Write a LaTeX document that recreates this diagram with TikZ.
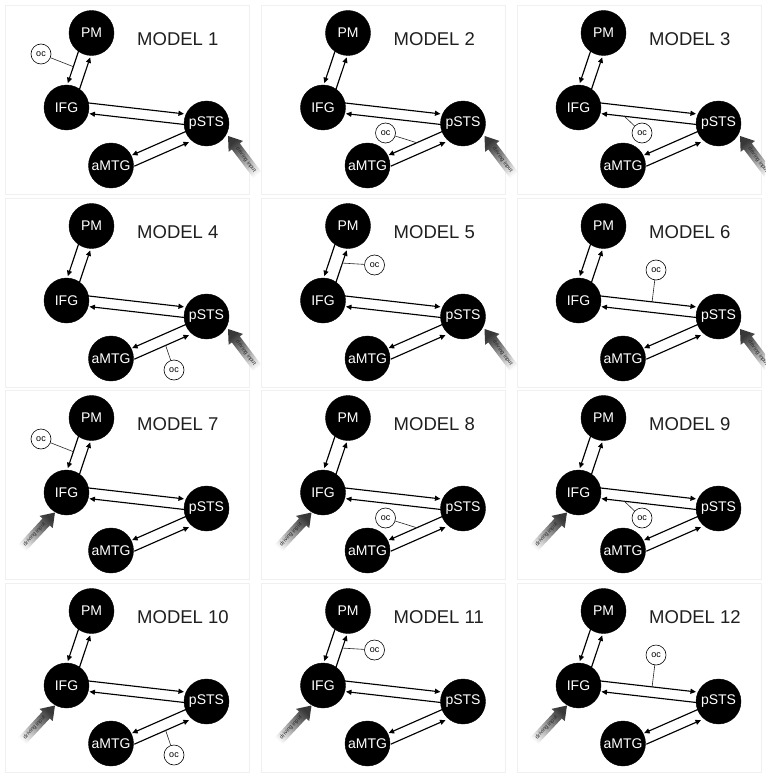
\documentclass[tikz,border=0pt]{standalone}
\usepackage{fontspec}
\setmainfont{Liberation Sans}
\usetikzlibrary{calc,arrows.meta}
\tikzset{
  region/.style={circle, fill=black, draw=black, minimum size=45pt, inner sep=0pt, text=white, font=\fontsize{14}{14}\selectfont},
  conn/.style={line width=1.15pt, -{Triangle[length=5.5pt,width=5pt]}, shorten <=21pt, shorten >=23.5pt},
  title/.style={anchor=west, inner sep=0pt, font=\fontsize{18.5}{18.5}\selectfont, text=black!88},
  ocnode/.style={circle, draw=black, line width=0.6pt, fill=white, minimum size=20pt, inner sep=0pt, font=\fontsize{9}{9}\selectfont},
  ocline/.style={line width=0.6pt, draw=black!85},
  drivetext/.style={font=\fontsize{5.5}{5.5}\selectfont, text=black!85, inner sep=0pt},
  panelframe/.style={draw=black!6, line width=0.8pt},
}
\newcommand\drawnet{%
  \draw[panelframe] (5,5) rectangle (249,194);
  \node[region] (PM) at (91.5,33) {PM};
  \node[region] (IFG) at (66.5,107.5) {IFG};
  \node[region] (pSTS) at (206.5,123.5) {pSTS};
  \node[region] (aMTG) at (111,165.5) {aMTG};
  \draw[conn] ($(PM)!6.5pt!-90:(IFG)$) -- ($(IFG)!6.5pt!90:(PM)$) coordinate[pos=0.48] (PMtoIFG);
  \draw[conn] ($(IFG)!6.5pt!-90:(PM)$) -- ($(PM)!6.5pt!90:(IFG)$) coordinate[pos=0.53] (IFGtoPM);
  \draw[conn] ($(IFG)!7pt!90:(pSTS)$) -- ($(pSTS)!7pt!-90:(IFG)$) coordinate[pos=0.52] (IFGtopSTS);
  \draw[conn] ($(pSTS)!3.5pt!90:(IFG)$) -- ($(IFG)!3.5pt!-90:(pSTS)$) coordinate[pos=0.67] (pSTStoIFG);
  \draw[conn] ($(pSTS)!1pt!-90:(aMTG)$) -- ($(aMTG)!1pt!90:(pSTS)$) coordinate[pos=0.48] (pSTStoaMTG);
  \draw[conn] ($(aMTG)!10pt!-90:(pSTS)$) -- ($(pSTS)!10pt!90:(aMTG)$) coordinate[pos=0.53] (aMTGtopSTS);
}
% #1 tip, #2 direction angle, #3 text angle
\newcommand\driveArrow[3]{%
  \begin{scope}[shift={#1}, rotate=#2]
    \shade[top color=black!78, bottom color=white, shading angle=#2-90]
      (0,0) -- (-13,9) -- (-13,5) -- (-52,5) -- (-52,-5) -- (-13,-5) -- (-13,-9) -- cycle;
    \node[drivetext, rotate=#3] (drv) at (-30,0) {driving input};
  \end{scope}}
\newcommand\drivepSTS{\driveArrow{(228,136)}{127}{307}}
\newcommand\driveIFG{\driveArrow{(55,127.5)}{47}{47}}
\begin{document}
\begin{tikzpicture}[x=1pt,y=-1pt]
\useasboundingbox (0,0) rectangle (765,773);
\clip (0,0) rectangle (765,773);
\fill[white] (0,0) rectangle (765,773);
% Model 1
\begin{scope}[shift={(0,0)}]
  \drawnet
  \node[title] (t1) at (137,39) {MODEL 1};
  \node[ocnode] (oc1) at (41,54) {oc};
  \draw[ocline] (oc1) -- (PMtoIFG);
  \drivepSTS
\end{scope}
% Model 2
\begin{scope}[shift={(256.5,0)}]
  \drawnet
  \node[title] (t2) at (137,39) {MODEL 2};
  \node[ocnode] (oc2) at (129,133) {oc};
  \draw[ocline] (oc2) -- (pSTStoaMTG);
  \drivepSTS
\end{scope}
% Model 3
\begin{scope}[shift={(512,0)}]
  \drawnet
  \node[title] (t3) at (137,39) {MODEL 3};
  \node[ocnode] (oc3) at (130,133) {oc};
  \draw[ocline] (oc3) -- (pSTStoIFG);
  \drivepSTS
\end{scope}
% Model 4
\begin{scope}[shift={(0,193)}]
  \drawnet
  \node[title] (t4) at (137,39) {MODEL 4};
  \node[ocnode] (oc4) at (174,177) {oc};
  \draw[ocline] (oc4) -- (aMTGtopSTS);
  \drivepSTS
\end{scope}
% Model 5
\begin{scope}[shift={(256.5,193)}]
  \drawnet
  \node[title] (t5) at (137,39) {MODEL 5};
  \node[ocnode] (oc5) at (118,72) {oc};
  \draw[ocline] (oc5) -- (IFGtoPM);
  \drivepSTS
\end{scope}
% Model 6
\begin{scope}[shift={(512,193)}]
  \drawnet
  \node[title] (t6) at (137,39) {MODEL 6};
  \node[ocnode] (oc6) at (144,77) {oc};
  \draw[ocline] (oc6) -- (IFGtopSTS);
  \drivepSTS
\end{scope}
% Model 7
\begin{scope}[shift={(0,385)}]
  \drawnet
  \node[title] (t7) at (137,39) {MODEL 7};
  \node[ocnode] (oc7) at (41,54) {oc};
  \draw[ocline] (oc7) -- (PMtoIFG);
  \driveIFG
\end{scope}
% Model 8
\begin{scope}[shift={(256.5,385)}]
  \drawnet
  \node[title] (t8) at (137,39) {MODEL 8};
  \node[ocnode] (oc8) at (129,133) {oc};
  \draw[ocline] (oc8) -- (pSTStoaMTG);
  \driveIFG
\end{scope}
% Model 9
\begin{scope}[shift={(512,385)}]
  \drawnet
  \node[title] (t9) at (137,39) {MODEL 9};
  \node[ocnode] (oc9) at (130,133) {oc};
  \draw[ocline] (oc9) -- (pSTStoIFG);
  \driveIFG
\end{scope}
% Model 10
\begin{scope}[shift={(0,578)}]
  \drawnet
  \node[title] (t10) at (137,39) {MODEL 10};
  \node[ocnode] (oc10) at (174,177) {oc};
  \draw[ocline] (oc10) -- (aMTGtopSTS);
  \driveIFG
\end{scope}
% Model 11
\begin{scope}[shift={(256.5,578)}]
  \drawnet
  \node[title] (t11) at (137,39) {MODEL 11};
  \node[ocnode] (oc11) at (118,72) {oc};
  \draw[ocline] (oc11) -- (IFGtoPM);
  \driveIFG
\end{scope}
% Model 12
\begin{scope}[shift={(512,578)}]
  \drawnet
  \node[title] (t12) at (137,39) {MODEL 12};
  \node[ocnode] (oc12) at (144,77) {oc};
  \draw[ocline] (oc12) -- (IFGtopSTS);
  \driveIFG
\end{scope}
\end{tikzpicture}
\end{document}
